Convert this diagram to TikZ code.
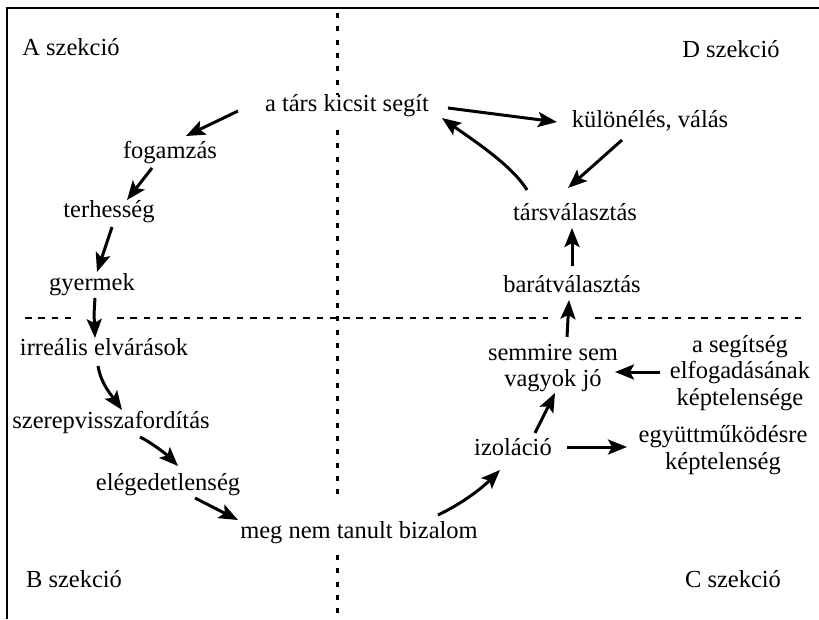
\documentclass[tikz,border=0pt]{standalone}
\usepackage{fontspec}
\setmainfont{Liberation Serif}
\usetikzlibrary{arrows.meta}
\begin{document}
\begin{tikzpicture}[x=1pt,y=-1pt,
  lbl/.style={inner sep=0pt,anchor=base,font=\fontsize{24.5}{26.5}\selectfont},
  mlbl/.style={inner sep=0pt,anchor=center,align=center,font=\fontsize{24.5}{26.5}\selectfont},
  arr/.style={line width=3pt,-{Stealth[length=19pt,width=15pt,inset=4pt]}},
  vdiv/.style={line width=3pt,dash pattern=on 5pt off 8.3pt},
  hdiv/.style={line width=2.8pt,dash pattern=on 6.5pt off 6.8pt},
  frame/.style={line width=2.6pt}]
\useasboundingbox (0,0) rectangle (819,619);
% frame
\draw[frame] (7,619) -- (7,8) -- (819,8);
% dividers
\draw[vdiv] (337,13) -- (337,95);
\draw[vdiv] (337,130) -- (337,500);
\draw[vdiv] (337,555) -- (337,613);
\draw[hdiv] (25,318) -- (72,318);
\draw[hdiv] (117,318) -- (548,318);
\draw[hdiv] (595,318) -- (805,318);
% section labels
\node[lbl] (A) at (71,55) {A szekció};
\node[lbl] (D) at (731,57) {D szekció};
\node[lbl] (B) at (74,587) {B szekció};
\node[lbl] (C) at (733,587) {C szekció};
% nodes
\node[lbl] (tars) at (347,111) {a társ kicsit segít};
\node[lbl] (kul) at (650,127) {különélés, válás};
\node[lbl] (fog) at (170,158) {fogamzás};
\node[lbl] (ter) at (109,217) {terhesség};
\node[lbl] (gye) at (92,290) {gyermek};
\node[lbl] (irr) at (104,355) {irreális elvárások};
\node[lbl] (sze) at (111,428) {szerepvisszafordítás};
\node[lbl] (ele) at (168,490) {elégedetlenség};
\node[lbl] (meg) at (359,538) {meg nem tanult bizalom};
\node[lbl] (izo) at (513,455) {izoláció};
\node[lbl] (bar) at (572,292) {barátválasztás};
\node[lbl] (tv) at (575,220) {társválasztás};
\node[mlbl] (egy) at (723,450) {együttműködésre\\képtelenség};
\node[mlbl] (sem) at (553,368) {semmire sem\\vagyok jó};
\node[mlbl] (seg) at (740,373) {a segítség\\elfogadásának\\képtelensége};
% arrows
\draw[arr] ([shift={(-109,0)}]tars.base) -- ([shift={(16,-22)}]fog.base);
\draw[arr] ([shift={(-18,10)}]fog.base) -- ([shift={(18,-17)}]ter.base);
\draw[arr] ([shift={(3,10)}]ter.base) -- ([shift={(5,-18)}]gye.base);
\draw[arr] ([shift={(3,8)}]gye.base) .. controls +(-1,15) .. ([shift={(-9,-17)}]irr.base);
\draw[arr] ([shift={(-6,11)}]irr.base) .. controls +(3,18) and +(-10,-14) .. ([shift={(11,-18)}]sze.base);
\draw[arr] ([shift={(29,9)}]sze.base) .. controls +(12,6) and +(-12,-12) .. ([shift={(10,-24)}]ele.base);
\draw[arr] ([shift={(27,8)}]ele.base) -- ([shift={(-121,-18)}]meg.base);
\draw[arr] ([shift={(79,-23)}]meg.base) .. controls +(25,-12) and +(-18,18) .. ([shift={(-13,15)}]izo.base);
\draw[arr] ([shift={(22,-22)}]izo.base) -- ([shift={(2,25)}]sem.center);
\draw[arr] ([shift={(54,-8)}]izo.base) -- ([shift={(-96,-3)}]egy.center);
\draw[arr] ([shift={(-80,-1)}]seg.center) -- ([shift={(62,4)}]sem.center);
\draw[arr] ([shift={(14,-31)}]sem.center) -- ([shift={(-3,8)}]bar.base);
\draw[arr] ([shift={(0,-26)}]bar.base) -- ([shift={(-3,8)}]tv.base);
\draw[arr] ([shift={(-48,-30)}]tv.base) .. controls +(-15,-25) and +(28,20) .. ([shift={(95,7)}]tars.base);
\draw[arr] ([shift={(101,-3)}]tars.base) -- ([shift={(-93,-5)}]kul.base);
\draw[arr] ([shift={(-28,13)}]kul.base) -- ([shift={(-7,-32)}]tv.base);
\end{tikzpicture}
\end{document}
